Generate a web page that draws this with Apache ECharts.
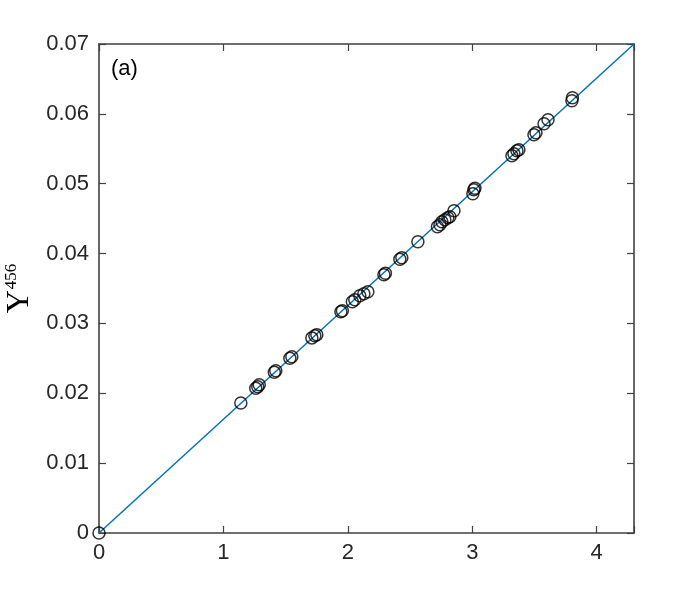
<!DOCTYPE html>
<html><head><meta charset="utf-8">
<script src="https://cdn.jsdelivr.net/npm/echarts@6/dist/echarts.min.js"></script>
<style>html,body{margin:0;padding:0;background:#fff}#c{width:700px;height:600px}</style>
</head><body><div id="c"></div>
<script>
const xVals = [0,1.140,1.260,1.276,1.288,1.409,1.421,1.534,1.550,1.711,1.735,1.751,1.944,1.956,2.036,2.056,2.096,2.129,2.161,2.290,2.302,2.418,2.434,2.563,2.720,2.740,2.756,2.780,2.804,2.820,2.853,3.005,3.013,3.021,3.319,3.335,3.359,3.375,3.496,3.512,3.577,3.609,3.801,3.805];
const yVals = [0,0.01861,0.02073,0.02094,0.02123,0.02302,0.02323,0.02502,0.02524,0.02793,0.02824,0.02838,0.03167,0.03182,0.03311,0.03340,0.03397,0.03426,0.03454,0.03697,0.03719,0.03919,0.03941,0.04170,0.04385,0.04413,0.04456,0.04485,0.04513,0.04527,0.04613,0.04857,0.04915,0.04936,0.05401,0.05430,0.05473,0.05487,0.05701,0.05730,0.05858,0.05915,0.06187,0.06231];
const fitLineX = [0, 4.3];
const fitLineY = [0, 0.07];
const xTicks = [0,1,2,3,4];
const yTicks = [0,0.01,0.02,0.03,0.04,0.05,0.06,0.07];

const axisColor = '#262626';
const font = 'Liberation Sans, Arial, sans-serif';
const chart = echarts.init(document.getElementById('c'));
const baseX = {type:'value', min:0, max:4.3, interval:1,
  axisLine:{show:true, onZero:false, lineStyle:{color:'#404040', width:1.6}},
  axisTick:{show:true, inside:true, length:7, lineStyle:{color:'#404040', width:1.2}},
  splitLine:{show:false}};
const baseY = {type:'value', min:0, max:0.07, interval:0.01,
  axisLine:{show:true, onZero:false, lineStyle:{color:'#404040', width:1.6}},
  axisTick:{show:true, inside:true, length:7, lineStyle:{color:'#404040', width:1.2}},
  splitLine:{show:false}};
chart.setOption({
  animation:false,
  backgroundColor:'#fff',
  grid:{left:99, right:66, top:44, bottom:67, containLabel:false, outerBoundsMode:'none'},
  xAxis:[
    Object.assign({}, baseX, {position:'bottom',
      axisLabel:{show:true, color:axisColor, fontSize:22, fontFamily:font, margin:9,
        formatter:v => xTicks.includes(v) ? String(v) : ''}}),
    Object.assign({}, baseX, {position:'top', axisLabel:{show:false}})
  ],
  yAxis:[
    Object.assign({}, baseY, {position:'left',
      name:'{a|Υ}{b|456}', nameLocation:'middle', nameRotate:90, nameGap:62,
      nameTextStyle:{rich:{
        a:{fontFamily:'Liberation Serif, Times New Roman, serif', fontSize:32, color:'#000'},
        b:{fontFamily:'Liberation Serif, Times New Roman, serif', fontSize:17, color:'#000', padding:[0,0,16,1]}}},
      axisLabel:{show:true, color:axisColor, fontSize:22, fontFamily:font, margin:10,
        formatter:v => { const t = yTicks.find(k => Math.abs(k - v) < 1e-9); return t === undefined ? '' : (t === 0 ? '0' : t.toFixed(2)); }}}),
    Object.assign({}, baseY, {position:'right', axisLabel:{show:false}})
  ],
  series:[
    {type:'line', data:fitLineX.map((x,i)=>[x, fitLineY[i]]), symbol:'none',
     lineStyle:{color:'#0072BD', width:1.5}, z:2},
    {type:'scatter', data:xVals.map((x,i)=>[x, yVals[i]]), symbol:'circle', symbolSize:12,
     itemStyle:{color:'rgba(0,0,0,0)', borderColor:'#000', borderWidth:1.5}, z:3}
  ],
  graphic:[
    {type:'text', left:111, top:58, style:{text:'(a)', font:'22px Liberation Sans, Arial, sans-serif', fill:'#000'}}
  ]
});
</script></body></html>
